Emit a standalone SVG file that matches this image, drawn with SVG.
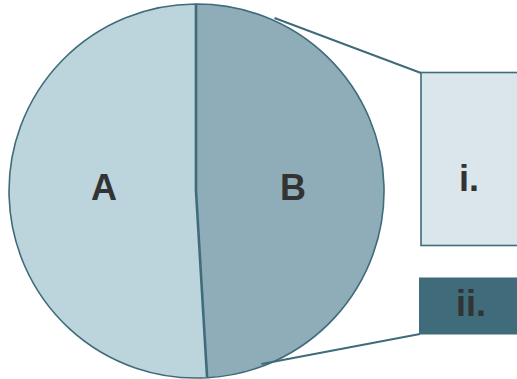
<svg xmlns="http://www.w3.org/2000/svg" width="517" height="379" viewBox="0 0 517 379">
<style>
.sl{stroke:#3f6b7a;stroke-width:1.6;stroke-linejoin:round}
.lbl{font-family:"Liberation Sans",Arial,sans-serif;font-weight:bold;font-size:36px;fill:#333333;text-anchor:middle}
.conn{stroke:#3f6b7a;stroke-width:2;fill:none}
</style>
<rect width="517" height="379" fill="#ffffff"/>
<g id="slice-A">
<path class="sl" d="M195.5,191 L206.6,377.7 A187,187 0 1 1 195.5,4 Z" fill="#bcd5dd"/>
<text class="lbl" x="104" y="200">A</text>
</g>
<g id="slice-B">
<path class="sl" d="M196.5,191 L196.5,4 A187,187 0 0 1 207.6,377.7 Z" fill="#8fadb8"/>
<text class="lbl" x="293" y="200">B</text>
</g>
<g id="connectors">
<line class="conn" x1="274.5" y1="18" x2="421" y2="73"/>
<line class="conn" x1="261.5" y1="364" x2="420" y2="334"/>
</g>
<g id="box-i">
<rect x="421" y="72.5" width="110" height="173" fill="#dae6eb" stroke="#3f6b7a" stroke-width="1.6"/>
<text class="lbl" x="469" y="191">i.</text>
</g>
<g id="box-ii">
<rect x="419" y="277.5" width="110" height="57" fill="#3f6b7a"/>
<text class="lbl" x="471" y="316">ii.</text>
</g>
</svg>
